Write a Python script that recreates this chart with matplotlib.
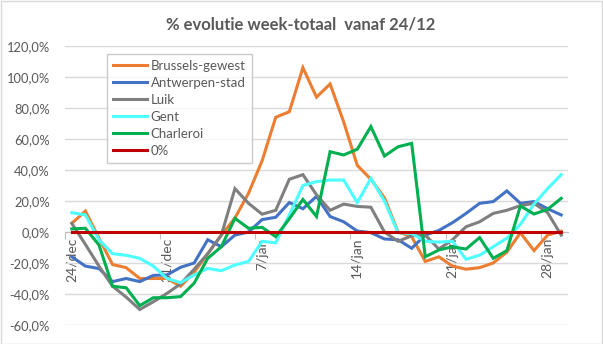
import matplotlib
matplotlib.use("Agg")
import matplotlib.pyplot as plt
from matplotlib.ticker import FuncFormatter, FixedLocator
from matplotlib.patches import Rectangle

plt.rcParams['font.family'] = ['Lato', 'DejaVu Sans']

# Days: 24/dec .. 29/jan
days = [f"{d}/dec" for d in range(24, 32)] + [f"{d}/jan" for d in range(1, 30)]
tick_labels = ["24/dec", "31/dec", "7/jan", "14/jan", "21/jan", "28/jan"]

brussels = [5.6, 13.5, -4, -21, -23, -30, -30, -30, -35, -26, -14, -2, 9, 25, 46,
            74, 77.6, 106, 87, 95.5, 71, 43, 34, 22, 0, -3, -19, -16, -22, -24,
            -23, -20, -13, -0.5, -12, -2, 0.6]
antwerpen = [-16, -22, -23.6, -32, -30, -32, -28, -27.7, -22.8, -20, -5, -9.5, -2, 0, 8,
             9.5, 19, 15, 23, 10, 6.6, 0.6, -0.4, -4.5, -5, -10.5, -2, 1, 6, 12,
             18.5, 19.6, 26.5, 18.5, 19.6, 15, 11]
luik = [5.6, -8, -22, -35, -42, -50, -45, -39.6, -33.5, -24, -14, -2, 28, 18.5, 11.5,
        14, 34, 37, 24, 14, 18, 16.5, 16, 0, -6, -2.5, -2, -11, -5, 3.4,
        6.6, 12, 14, 17, 18.5, 12.5, -2]
gent = [12.5, 11, -5, -14, -15, -17, -22, -30, -32.7, -27.7, -23.5, -25, -21.3, -19, -6,
        -7, 11, 30, 32.5, 33.5, 33.5, 19, 34.6, 20, -0.5, -1, -6, -6.5, -6, -17.6,
        -15, -9.5, -4, 5, 18, 28, 37]
charleroi = [2, 2.4, -8.4, -35, -36, -47.5, -42.4, -42.4, -41.7, -33, -17, -9.5, 8.8, 2.4, 3,
             -3, 8.5, 21, 10, 51.8, 49.7, 53.4, 68, 49, 55, 57.2, -16, -11.6, -9.5, -11,
             -3.6, -17, -12, 16.8, 11.6, 14.6, 21.7]
zero = [0.0] * len(days)

series = [
    ("Brussels-gewest", brussels, "#ED7D31"),
    ("Antwerpen-stad", antwerpen, "#4472C4"),
    ("Luik", luik, "#7F7F7F"),
    ("Gent", gent, "#4DFFFF"),
    ("Charleroi", charleroi, "#00B050"),
    ("0%", zero, "#C00000"),
]

W, H = 603, 344
fig = plt.figure(figsize=(W / 100, H / 100), dpi=100)
fig.patch.set_facecolor("white")

# plot area in pixels: left 65, right 568, top 46, bottom 325
left, right, top, bottom = 65, 568, 46, 325
ax = fig.add_axes([left / W, 1 - bottom / H, (right - left) / W, (bottom - top) / H])

x = list(range(len(days)))
for name, vals, col in series:
    ax.plot(x, vals, color=col, lw=2.2, label=name, solid_joinstyle="miter", zorder=3)

ax.set_xlim(-0.5, len(days) - 0.5)
ax.set_ylim(-60, 120)
ax.set_yticks(range(-60, 121, 20))
ax.yaxis.set_major_formatter(FuncFormatter(lambda v, p: f"{v:.1f}%".replace(".", ",")))
ax.grid(axis="y", color="#D9D9D9", lw=1.0, zorder=0)
ax.tick_params(axis="y", length=0, labelsize=9.3, labelcolor="#595959", pad=11)

for s in ["top", "right", "left"]:
    ax.spines[s].set_visible(False)
ax.spines["bottom"].set_position(("data", 0))
ax.spines["bottom"].set_color("#BFBFBF")

# tick marks between categories, labels on categories
label_pos = [days.index(t) for t in tick_labels]
ax.xaxis.set_major_locator(FixedLocator([p - 0.5 for p in label_pos]))
ax.xaxis.set_minor_locator(FixedLocator(label_pos))
ax.xaxis.set_major_formatter(FuncFormatter(lambda v, p: ""))
ax.xaxis.set_minor_formatter(FuncFormatter(lambda v, p: days[int(round(v))]))
ax.tick_params(axis="x", which="major", length=5, color="#BFBFBF")
ax.tick_params(axis="x", which="minor", length=0, labelsize=10, labelcolor="#595959",
               labelrotation=90, pad=4)

leg = ax.legend(loc="upper left", bbox_to_anchor=((100 - left) / (right - left), 1 - (47 - top) / (bottom - top)),
                frameon=True, fancybox=False, fontsize=9.5, handlelength=2.6,
                handletextpad=0.3, labelspacing=0.38, borderpad=0.45, labelcolor="#595959")
leg.get_frame().set_edgecolor("#BFBFBF")
leg.get_frame().set_linewidth(1.0)

fig.text(301 / W, 1 - 24 / H, "% evolutie week-totaal  vanaf 24/12", ha="center", va="center",
         fontsize=12, fontweight="bold", color="#595959")

fig.patches.append(Rectangle((0.5 / W, 0.5 / H), 1 - 1.5 / W, 1 - 1.5 / H, transform=fig.transFigure,
                             fill=False, edgecolor="#D9D9D9", lw=1.0))

fig.savefig("out.png", dpi=100)
